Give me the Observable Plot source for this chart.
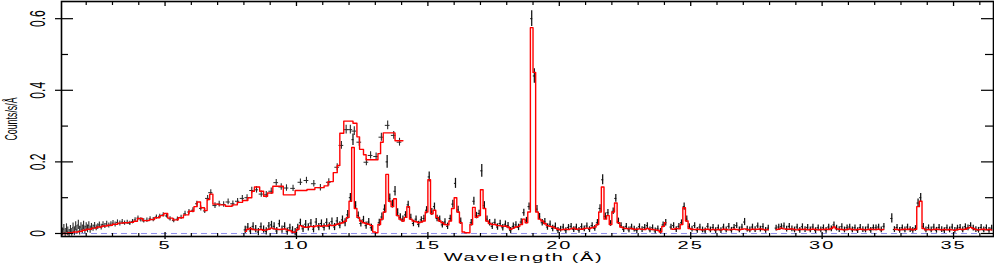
<!DOCTYPE html>
<html>
<head>
<meta charset="utf-8">
<script src="https://cdn.jsdelivr.net/npm/d3@7"></script>
<script src="https://cdn.jsdelivr.net/npm/@observablehq/plot@0.6"></script>
<style>
  html, body { margin: 0; padding: 0; background: #fff; }
  svg { display: block; }
</style>
</head>
<body>
<script>
// ---------------- axis ticks & labels ----------------
const xMajorTicks = [5, 10, 15, 20, 25, 30, 35];
const xMajorLabels = ["5", "10", "15", "20", "25", "30", "35"];
const xMinorTicks = [2, 3, 4, 6, 7, 8, 9, 11, 12, 13, 14, 16, 17, 18, 19, 21, 22, 23, 24, 26, 27, 28, 29, 31, 32, 33, 34, 36];
const yMajorTicks = [0, 0.2, 0.4, 0.6];
const yMajorLabels = ["0", "0.2", "0.4", "0.6"];
const yMinorTicks = [0.1, 0.3, 0.5];
const xTitle = "Wavelength (Å)";
const yTitle = "Counts/s/Å";

// ---------------- low-resolution spectrum (crosses) ----------------
const epicWl = [1.10,1.15,1.20,1.25,1.30,1.35,1.40,1.45,1.50,1.55,1.60,1.65,1.70,1.75,1.80,1.85,1.90,1.95,2.00,2.05,2.10,2.15,2.20,
  2.26,2.32,2.38,2.44,2.50,2.57,2.64,2.71,2.78,2.86,2.94,3.02,3.10,
  3.19,3.28,3.37,3.46,3.56,3.66,3.76,3.86,3.97,4.08,4.19,4.31,4.43,4.55,4.67,
  4.80,4.93,5.06,5.19,5.33,5.47,5.61,5.76,5.91,6.06,6.21,6.36,6.51,
  6.62,6.74,6.90,7.06,7.23,7.40,7.58,7.76,7.94,8.12,8.30,8.48,8.66,8.85,
  9.04,9.23,9.42,9.62,9.87,10.15,10.38,10.66,10.91,11.23,11.55,11.71,11.89,12.05,12.20,12.39,12.66,12.82,13.03,13.23,13.47,13.70,13.92];
const epicCounts = [0.004,0.012,0.002,0.014,0.006,0.000,0.010,0.003,0.016,0.006,0.020,0.010,0.024,0.008,0.018,0.012,0.022,0.010,0.019,0.013,0.022,0.011,0.018,
  0.015,0.022,0.016,0.019,0.024,0.018,0.025,0.021,0.027,0.022,0.026,0.029,0.025,
  0.031,0.028,0.032,0.029,0.031,0.028,0.033,0.038,0.043,0.038,0.035,0.037,0.041,0.039,0.046,
  0.048,0.052,0.049,0.041,0.036,0.040,0.045,0.055,0.060,0.065,0.083,0.070,0.063,
  0.098,0.114,0.078,0.082,0.081,0.088,0.083,0.090,0.098,0.100,0.120,0.122,0.110,0.108,
  0.118,0.142,0.130,0.127,0.126,0.143,0.148,0.139,0.128,0.143,0.185,0.246,0.290,0.290,0.286,0.255,0.199,0.218,0.215,0.269,0.302,0.274,0.255];
const epicErrors = [0.011,0.013,0.011,0.013,0.012,0.011,0.012,0.011,0.013,0.012,0.013,0.012,0.013,0.012,0.012,0.012,0.012,0.011,0.011,0.011,0.011,0.010,0.010,
  0.009,0.009,0.008,0.008,0.008,0.008,0.008,0.007,0.007,0.007,0.007,0.007,0.007,
  0.007,0.007,0.007,0.006,0.006,0.006,0.006,0.006,0.006,0.006,0.006,0.006,0.006,0.006,0.006,
  0.006,0.006,0.006,0.006,0.006,0.006,0.006,0.007,0.007,0.007,0.007,0.007,0.007,
  0.008,0.008,0.008,0.008,0.008,0.008,0.008,0.008,0.008,0.008,0.009,0.009,0.009,0.009,
  0.009,0.009,0.009,0.009,0.009,0.009,0.009,0.009,0.009,0.010,0.010,0.011,0.012,0.012,0.012,0.011,0.010,0.010,0.010,0.011,0.012,0.011,0.011];
const epicHalfWidths = [0.02,0.02,0.02,0.02,0.02,0.02,0.02,0.02,0.02,0.02,0.02,0.02,0.02,0.02,0.02,0.02,0.02,0.02,0.02,0.02,0.02,0.02,0.02,
  0.03,0.03,0.03,0.03,0.03,0.03,0.03,0.03,0.03,0.03,0.03,0.03,0.03,
  0.04,0.04,0.04,0.04,0.04,0.04,0.04,0.04,0.04,0.04,0.04,0.04,0.04,0.04,0.04,
  0.05,0.05,0.05,0.05,0.05,0.05,0.05,0.05,0.05,0.05,0.05,0.05,0.05,
  0.08,0.08,0.08,0.08,0.08,0.08,0.08,0.08,0.08,0.08,0.08,0.08,0.08,0.08,
  0.09,0.09,0.09,0.09,0.09,0.09,0.09,0.09,0.09,0.09,0.09,0.09,0.09,0.09,0.09,0.09,0.09,0.09,0.09,0.09,0.09,0.09,0.09];
// low-resolution model (histogram: bin lower edges and levels)
const epicModelEdges = [1.06,1.30,1.50,1.70,1.85,2.00,2.20,2.40,2.60,2.80,3.00,3.20,3.40,3.60,3.80,3.95,4.15,4.40,4.60,4.80,
  4.95,5.10,5.30,5.50,5.70,5.90,6.10,6.22,6.35,6.50,6.60,6.70,6.82,7.05,7.30,7.55,7.75,7.95,8.15,8.30,
  8.40,8.60,8.75,8.90,9.10,9.50,9.95,10.40,10.70,11.05,11.20,11.40,11.55,11.65,11.80,12.15,12.30,12.40,12.55,12.65,
  13.10,13.20,13.30,13.75,14.05];
const epicModelLevels = [0.000,0.002,0.004,0.006,0.009,0.012,0.015,0.018,0.021,0.023,0.026,0.029,0.030,0.031,0.034,0.042,0.036,0.039,0.044,0.050,
  0.056,0.043,0.038,0.044,0.052,0.062,0.075,0.088,0.072,0.064,0.095,0.110,0.082,0.080,0.076,0.080,0.087,0.092,0.100,0.118,
  0.130,0.118,0.104,0.113,0.132,0.108,0.120,0.123,0.128,0.133,0.145,0.170,0.190,0.280,0.314,0.308,0.270,0.235,0.220,0.206,
  0.223,0.255,0.281,0.259,0.259];

// ---------------- high-resolution spectrum (bins of 0.1 Å from 8.0 Å) ----------------
const rgsBinStart = 8.0;
const rgsBinWidth = 0.1;
const rgsCounts = [
0.010,0.018,0.007,0.020,0.012,0.004,0.019,0.011,0.006,0.021,0.024,0.020,0.007,0.027,0.011,0.020,0.005,0.016,0.009,0.004,
0.016,0.030,0.013,0.026,0.017,0.029,0.012,0.032,0.018,0.028,0.017,0.031,0.020,0.033,0.018,0.035,0.023,0.038,0.030,0.052,
0.100,0.262,0.078,0.050,0.028,0.038,0.022,0.032,0.016,null,null,0.030,0.046,0.068,0.200,0.098,0.082,0.118,0.058,0.045,
0.040,0.052,0.080,0.045,0.028,0.040,0.025,0.038,0.042,0.065,0.158,0.060,0.075,0.042,0.040,0.024,0.032,0.020,0.042,0.082,
0.140,0.066,0.034,null,null,null,0.030,0.090,0.050,0.056,0.175,0.078,0.040,0.030,0.020,0.031,0.018,0.028,0.016,0.026,
0.022,0.008,0.020,0.024,0.017,0.032,0.058,0.036,0.075,0.600,0.440,0.068,0.047,0.030,0.033,0.018,0.026,0.014,0.020,0.008,
0.012,0.018,0.008,0.017,0.020,0.011,0.018,0.009,0.019,0.013,0.021,0.011,0.022,0.014,0.030,0.070,0.150,0.048,0.058,0.028,
0.062,0.098,0.034,0.022,0.011,0.020,0.010,0.018,0.012,0.008,0.019,0.011,0.017,0.022,0.010,0.016,0.007,0.013,0.006,0.024,
0.030,null,0.018,0.022,0.011,0.020,0.030,0.075,0.040,0.019,0.012,0.022,0.009,0.018,0.010,0.007,0.020,0.010,0.017,0.008,
0.016,0.008,0.018,0.010,0.020,0.009,0.017,0.022,0.010,0.018,0.032,0.012,0.010,0.018,0.011,0.021,0.012,0.019,0.009,0.015,
null,null,0.015,0.018,0.019,0.021,0.012,0.020,0.013,0.010,0.018,0.009,0.019,0.011,0.017,0.010,0.018,0.008,0.016,0.010,
0.016,0.009,0.018,0.013,0.024,0.015,0.011,0.019,0.010,0.016,0.018,0.010,0.016,0.008,0.017,0.011,0.010,0.018,0.009,0.016,
0.016,0.018,0.010,0.020,null,null,0.042,0.011,0.017,0.009,0.016,0.010,0.018,0.011,0.009,0.014,0.085,0.100,0.020,0.010,
0.016,0.010,0.018,0.009,0.017,0.011,0.008,0.016,0.010,0.018,0.009,0.015,0.017,0.010,0.019,0.016,0.022,0.015,0.011,0.009,0.017,0.010,0.016,0.009,0.015];
const rgsErrors = [
0.010,0.010,0.010,0.010,0.010,0.010,0.010,0.010,0.010,0.010,0.010,0.010,0.010,0.010,0.010,0.010,0.010,0.010,0.010,0.010,
0.010,0.010,0.010,0.010,0.010,0.010,0.010,0.010,0.010,0.010,0.010,0.010,0.010,0.010,0.010,0.010,0.010,0.011,0.011,0.012,
0.012,0.016,0.011,0.010,0.010,0.010,0.010,0.010,0.010,null,null,0.010,0.011,0.012,0.018,0.012,0.011,0.013,0.011,0.010,
0.009,0.009,0.010,0.009,0.009,0.009,0.009,0.009,0.009,0.010,0.014,0.010,0.010,0.009,0.009,0.009,0.009,0.009,0.009,0.011,
0.014,0.010,0.009,null,null,null,0.009,0.011,0.009,0.009,0.018,0.011,0.009,0.009,0.009,0.009,0.009,0.009,0.009,0.009,
0.009,0.009,0.009,0.009,0.009,0.009,0.010,0.009,0.010,0.022,0.020,0.010,0.009,0.009,0.009,0.009,0.009,0.009,0.009,0.009,
0.008,0.008,0.008,0.008,0.008,0.008,0.008,0.008,0.008,0.008,0.008,0.008,0.008,0.008,0.009,0.010,0.014,0.009,0.009,0.008,
0.009,0.011,0.009,0.008,0.008,0.008,0.008,0.008,0.008,0.008,0.008,0.008,0.008,0.008,0.008,0.008,0.008,0.008,0.008,0.008,
0.009,null,0.008,0.008,0.008,0.008,0.008,0.010,0.009,0.008,0.008,0.008,0.008,0.008,0.008,0.008,0.008,0.008,0.008,0.008,
0.008,0.008,0.008,0.008,0.008,0.008,0.008,0.008,0.008,0.008,0.010,0.008,0.008,0.008,0.008,0.008,0.008,0.008,0.008,0.008,
null,null,0.008,0.008,0.008,0.008,0.008,0.008,0.008,0.008,0.008,0.008,0.008,0.008,0.008,0.008,0.008,0.008,0.008,0.008,
0.008,0.008,0.008,0.008,0.008,0.008,0.008,0.008,0.008,0.008,0.008,0.008,0.008,0.008,0.008,0.008,0.008,0.008,0.008,0.008,
0.008,0.008,0.008,0.008,null,null,0.013,0.008,0.008,0.008,0.008,0.008,0.008,0.008,0.008,0.008,0.011,0.012,0.008,0.008,
0.008,0.008,0.008,0.008,0.008,0.008,0.008,0.008,0.008,0.008,0.008,0.008,0.008,0.008,0.008,0.008,0.008,0.008,0.008,0.008,0.008,0.008,0.008,0.008,0.008];
const rgsModel = [
0.006,0.012,0.014,0.011,0.010,0.010,0.011,0.009,0.010,0.012,0.015,0.013,0.012,0.011,0.012,0.013,0.010,0.008,0.004,0.003,
0.012,0.022,0.019,0.017,0.018,0.020,0.019,0.021,0.022,0.020,0.022,0.021,0.024,0.022,0.023,0.026,0.028,0.030,0.034,0.045,
0.090,0.240,0.070,0.045,0.035,0.030,0.028,0.026,0.022,0.004,0.002,0.025,0.040,0.060,0.165,0.090,0.075,0.097,0.050,0.040,
0.035,0.045,0.075,0.040,0.035,0.033,0.030,0.032,0.035,0.060,0.150,0.055,0.065,0.045,0.035,0.030,0.025,0.024,0.035,0.070,
0.100,0.060,0.030,0.004,0.002,0.002,0.025,0.073,0.045,0.050,0.122,0.070,0.035,0.028,0.025,0.025,0.022,0.022,0.020,0.021,
0.018,0.012,0.015,0.018,0.020,0.025,0.040,0.030,0.060,0.575,0.450,0.060,0.040,0.035,0.028,0.022,0.020,0.018,0.015,0.012,
0.010,0.011,0.012,0.011,0.013,0.015,0.012,0.013,0.012,0.014,0.015,0.014,0.016,0.018,0.025,0.060,0.130,0.040,0.050,0.025,
0.060,0.085,0.030,0.018,0.015,0.014,0.013,0.014,0.012,0.012,0.013,0.012,0.011,0.014,0.012,0.011,0.010,0.009,0.004,0.020,
0.030,null,0.013,0.012,0.014,0.013,0.025,0.072,0.035,0.014,0.012,0.011,0.012,0.011,0.010,0.011,0.012,0.010,0.011,0.010,
0.011,0.010,0.012,0.011,0.010,0.011,0.012,0.011,0.010,0.012,0.013,0.011,0.010,0.012,0.011,0.012,0.013,0.011,0.010,0.011,
null,null,0.011,0.012,0.015,0.013,0.012,0.012,0.013,0.011,0.010,0.012,0.011,0.012,0.010,0.011,0.012,0.011,0.010,0.011,
0.011,0.012,0.011,0.014,0.018,0.013,0.012,0.011,0.010,0.011,0.013,0.011,0.010,0.011,0.012,0.011,0.010,0.011,0.012,0.011,
0.011,0.012,0.010,0.011,null,null,null,0.012,0.011,0.010,0.011,0.012,0.011,0.013,0.010,0.012,0.075,0.090,0.014,0.010,
0.011,0.010,0.011,0.012,0.011,0.010,0.011,0.010,0.011,0.010,0.009,0.011,0.012,0.011,0.012,0.015,0.017,0.014,0.011,0.010,0.011,0.012,0.010,0.011,0.010];

// ---------------- build tables ----------------
const num = v => (v == null ? NaN : v);
const epic = epicWl.map((wl, i) => ({wl, val: epicCounts[i], err: epicErrors[i], hw: epicHalfWidths[i]}));
const epicModel = epicModelEdges.map((e, i) => ({edge: e, level: epicModelLevels[i]}));
const rgs = rgsCounts.map((v, i) => ({
  wl: rgsBinStart + rgsBinWidth * (i + 0.5),
  val: num(v), err: num(rgsErrors[i]), model: num(rgsModel[i])
}));
const rgsData = rgs.filter(d => Number.isFinite(d.val));

const W = 994, H = 263;
const mL = 61, mR = 1, mT = 1, mB = 27;
const innerW = W - mL - mR, innerH = H - mT - mB;
const font = "Liberation Sans, Arial, Helvetica, sans-serif";

const plot = Plot.plot({
  width: W, height: H,
  marginLeft: mL, marginRight: mR, marginTop: mT, marginBottom: mB,
  style: {background: "#fff", overflow: "visible"},
  x: {domain: [1.06, 36.52], axis: null},
  y: {domain: [-0.0084, 0.648], axis: null},
  marks: [
    // background level
    Plot.ruleY([0], {stroke: "#8f8fee", strokeWidth: 1, strokeDasharray: "6,4"}),
    // low-res crosses
    Plot.ruleY(epic, {y: "val", x1: d => d.wl - d.hw, x2: d => d.wl + d.hw, stroke: "#2a2a2a", strokeWidth: 1}),
    Plot.ruleX(epic, {x: "wl", y1: d => d.val - d.err, y2: d => d.val + d.err, stroke: "#2a2a2a", strokeWidth: 1.1}),
    // high-res data bars
    Plot.ruleX(rgsData, {x: "wl", y1: d => d.val - d.err, y2: d => d.val + d.err, stroke: "#111", strokeWidth: 1.25}),
    Plot.ruleY(rgsData, {y: "val", x1: d => d.wl - 0.04, x2: d => d.wl + 0.04, stroke: "#111", strokeWidth: 1}),
    // models
    Plot.line(epicModel, {x: "edge", y: "level", curve: "step-after", stroke: "#ff0000", strokeWidth: 1.4}),
    Plot.line(rgs, {x: "wl", y: "model", curve: "step", stroke: "#ff0000", strokeWidth: 1.4}),
    // frame and ticks
    Plot.frame({stroke: "#000", strokeWidth: 1.6}),
    Plot.tickX(xMajorTicks, {x: d => d, insetTop: innerH - 4, insetBottom: -3, stroke: "#000", strokeWidth: 1.3}),
    Plot.tickX(xMinorTicks, {x: d => d, insetTop: innerH - 3, stroke: "#000", strokeWidth: 1.2}),
    Plot.tickX(xMajorTicks, {x: d => d, insetBottom: innerH - 5, stroke: "#000", strokeWidth: 1.3}),
    Plot.tickX(xMinorTicks, {x: d => d, insetBottom: innerH - 4, stroke: "#000", strokeWidth: 1.2}),
    Plot.tickY(yMajorTicks, {y: d => d, insetLeft: -6, insetRight: innerW - 12, stroke: "#000", strokeWidth: 1.2}),
    Plot.tickY(yMinorTicks, {y: d => d, insetRight: innerW - 7, stroke: "#000", strokeWidth: 1.2}),
    Plot.tickY(yMajorTicks, {y: d => d, insetLeft: innerW - 12, stroke: "#000", strokeWidth: 1.2}),
    Plot.tickY(yMinorTicks, {y: d => d, insetLeft: innerW - 8, stroke: "#000", strokeWidth: 1.2}),
    // labels
    Plot.text(yMajorTicks, {y: d => d, text: (d, i) => yMajorLabels[i], frameAnchor: "left", dx: -24, rotate: -90,
      textAnchor: "middle", lineAnchor: "middle", fontSize: 22, fontFamily: font, fill: "#000"}),
    Plot.text([yTitle], {text: d => d, frameAnchor: "left", dx: -50, rotate: -90,
      textAnchor: "middle", lineAnchor: "middle", fontSize: 17, fontFamily: font, fill: "#000"}),
    Plot.text(xMajorTicks, {x: d => d, text: (d, i) => xMajorLabels[i], frameAnchor: "bottom", dy: 9,
      textAnchor: "middle", lineAnchor: "middle", fontSize: 10, fontFamily: font, fill: "#000"}),
    Plot.text([xTitle], {text: d => d, frameAnchor: "bottom", dy: 21, dx: -4,
      textAnchor: "middle", lineAnchor: "middle", fontSize: 10, fontFamily: font, fill: "#000"})
  ]
});

// stretch / condense text glyphs to mimic the original plotting font
const textGroups = plot.querySelectorAll('g[aria-label="text"]');
function stretch(g, sx, sy, ls) {
  if (!g) return;
  g.querySelectorAll("text").forEach(t => {
    const tr = t.getAttribute("transform") || "";
    t.setAttribute("transform", (tr + ` scale(${sx},${sy})`).trim());
    if (ls != null) t.setAttribute("letter-spacing", ls);
  });
}
stretch(textGroups[0], 0.55, 1);
stretch(textGroups[1], 0.52, 1);
stretch(textGroups[2], 2.0, 1, "1px");
stretch(textGroups[3], 2.0, 1, "0.8px");

document.body.appendChild(plot);
</script>
</body>
</html>
